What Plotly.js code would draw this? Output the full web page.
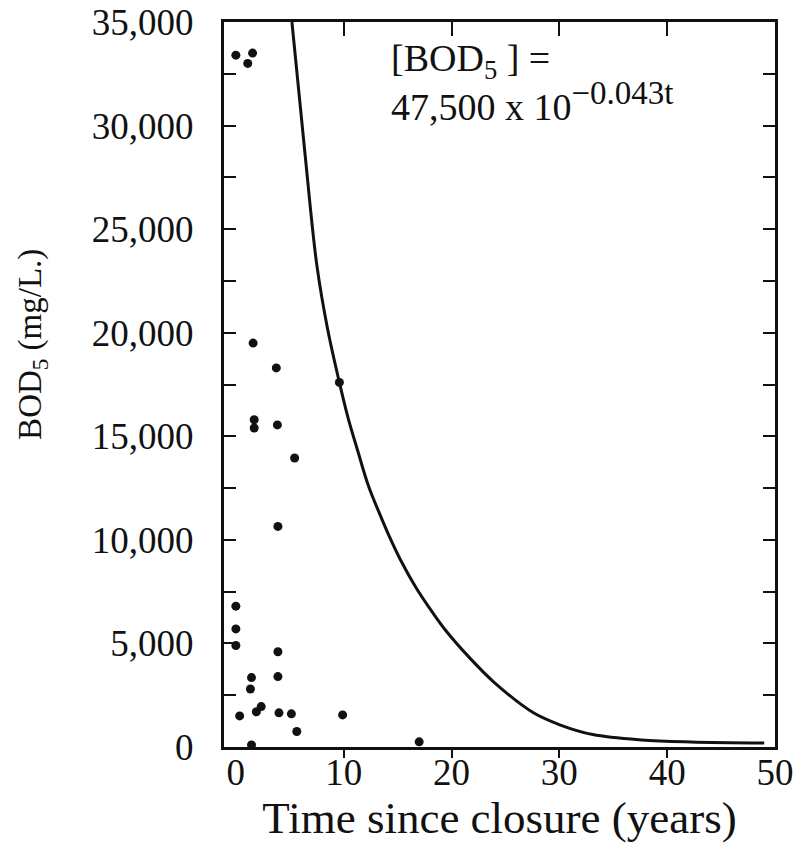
<!DOCTYPE html>
<html>
<head>
<meta charset="utf-8">
<script src="https://cdn.plot.ly/plotly-3.0.1.min.js"></script>
<style>
  html, body { margin: 0; padding: 0; background: #fff; }
  #chart { width: 798px; height: 850px; }
</style>
</head>
<body>
<div id="chart"></div>
<script>
// Observed data points (years since closure, BOD5 mg/L)
const ptYears = [0, 1.55, 1.1, 1.6, 3.75, 1.7, 1.7, 3.85, 5.45, 9.6, 3.9, 0, 0, 0, 3.9, 3.9, 1.45, 1.35, 0.35, 1.9, 2.35, 4.0, 5.15, 5.65, 9.9, 1.45, 17.0];
const ptBOD   = [33400, 33500, 33000, 19500, 18300, 15800, 15400, 15550, 13950, 17600, 10650, 6800, 5700, 4900, 4600, 3400, 3350, 2800, 1500, 1700, 1950, 1650, 1600, 750, 1550, 100, 250];

// Fitted curve
const fitYears = [5.2, 6.4, 7.5, 8.5, 9.6, 10.4, 11.3, 12.3, 13.3, 14.2, 15.2, 16.7, 18.3, 19.5, 21.6, 24.0, 27.6, 30.1, 33.1, 37.6, 42.2, 49];
const fitBOD   = [35000, 28700, 23300, 20200, 17600, 15900, 14300, 12600, 11300, 10200, 9100, 7700, 6450, 5600, 4350, 3100, 1650, 1060, 600, 340, 240, 190];

const xTickVals = [0, 10, 20, 30, 40, 50];
const xTickText = ['0', '10', '20', '30', '40', '50'];
const xInnerTicks = [10, 20, 30, 40];

const ink = '#111111';
const serif = 'Liberation Serif, Times New Roman, serif';
const xRange = [-1.1, 50];
const yRange = [0, 35000];

const traces = [
  {
    x: fitYears, y: fitBOD, type: 'scatter', mode: 'lines',
    line: { color: ink, width: 3, shape: 'spline', smoothing: 1 },
    hoverinfo: 'skip', showlegend: false
  },
  {
    x: ptYears, y: ptBOD, type: 'scatter', mode: 'markers',
    marker: { color: ink, size: 9 },
    cliponaxis: false, showlegend: false
  },
  { x: [], y: [], xaxis: 'x2', yaxis: 'y', type: 'scatter', showlegend: false, hoverinfo: 'skip' },
  { x: [], y: [], xaxis: 'x3', yaxis: 'y', type: 'scatter', showlegend: false, hoverinfo: 'skip' }
];

const layout = {
  width: 798, height: 850,
  margin: { l: 224, r: 23, t: 22, b: 103 },
  paper_bgcolor: '#ffffff', plot_bgcolor: '#ffffff',
  font: { family: serif, color: ink },
  showlegend: false,
  xaxis: {
    range: xRange, showgrid: false, zeroline: false,
    showline: true, linecolor: ink, linewidth: 3,
    tickvals: xTickVals, ticktext: xTickText, ticks: '',
    ticklabelstandoff: -9,
    tickfont: { size: 37, family: serif, color: ink },
    title: { text: 'Time since closure (years)', font: { size: 45, family: serif, color: ink }, standoff: 0 }
  },
  xaxis2: {
    overlaying: 'x', side: 'bottom', range: xRange, showgrid: false, zeroline: false,
    showline: false, tickvals: xInnerTicks, ticks: 'outside', ticklen: 10, tickwidth: 2,
    tickcolor: ink, showticklabels: false
  },
  xaxis3: {
    overlaying: 'x', side: 'top', range: xRange, showgrid: false, zeroline: false,
    showline: true, linecolor: ink, linewidth: 3,
    tickvals: xInnerTicks, ticks: 'inside', ticklen: 14, tickwidth: 2,
    tickcolor: ink, showticklabels: false
  },
  yaxis: {
    range: yRange, showgrid: false, zeroline: false,
    showline: true, linecolor: ink, linewidth: 3, mirror: 'ticks',
    tickmode: 'linear', tick0: 0, dtick: 5000, tickformat: ',d',
    ticks: 'inside', ticklen: 12, tickwidth: 2, tickcolor: ink,
    minor: { dtick: 2500, ticks: 'inside', ticklen: 12, tickwidth: 2, tickcolor: ink, showgrid: false },
    ticklabeloverflow: 'allow',
    ticklabelstandoff: 20,
    tickfont: { size: 37, family: serif, color: ink }
  },
  annotations: [
    {
      xref: 'paper', yref: 'paper', x: -0.348, y: 0.555, xanchor: 'center', yanchor: 'middle',
      textangle: -90, showarrow: false,
      text: 'BOD<sub>5</sub> (mg/L.)',
      font: { size: 33, family: serif, color: ink }
    },
    {
      xref: 'paper', yref: 'paper', x: 0.30, y: 0.982, xanchor: 'left', yanchor: 'top',
      align: 'left', showarrow: false,
      text: '[BOD<sub>5</sub> ] =<br>47,500 x 10<sup><span style="font-size:33px">−0.043t</span></sup>',
      font: { size: 38, family: serif, color: ink }
    }
  ]
};

Plotly.newPlot('chart', traces, layout, { staticPlot: true, displayModeBar: false });
</script>
</body>
</html>
